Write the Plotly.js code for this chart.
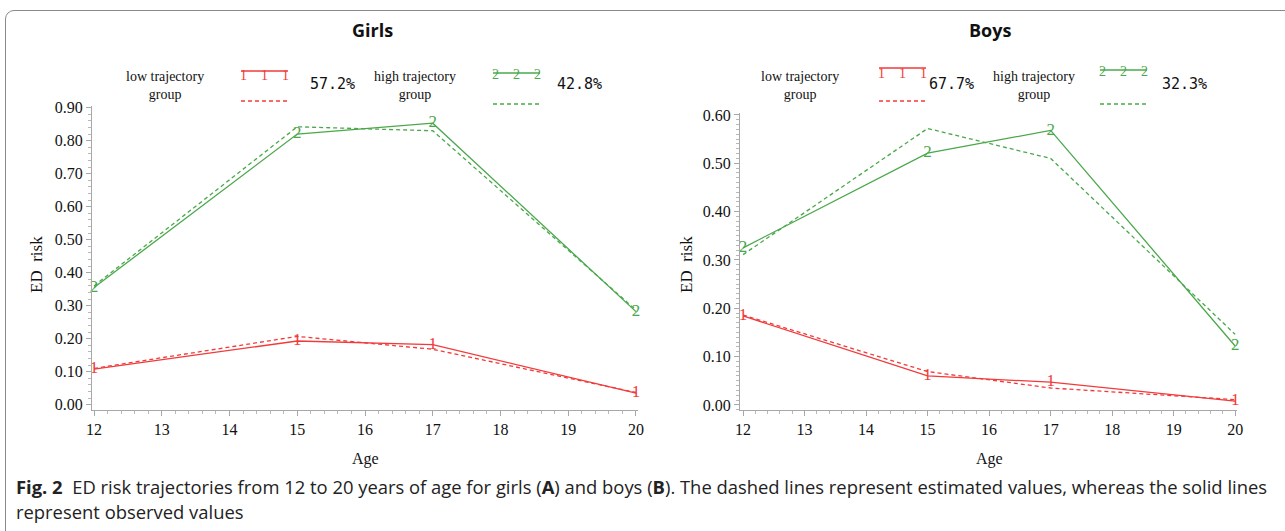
<!DOCTYPE html>
<html><head><meta charset="utf-8">
<script src="https://cdn.plot.ly/plotly-3.0.1.min.js"></script>
<style>
html,body{margin:0;padding:0;background:#fff;overflow:hidden;width:1285px;height:531px;}
#chart{position:absolute;left:0;top:0;width:1285px;height:531px;}
#frame{position:absolute;left:5px;top:10px;width:1400px;height:600px;border:1px solid #8a8a8a;border-radius:9px;pointer-events:none;z-index:10;}
</style></head>
<body><div id="chart"></div><div id="frame"></div>
<script>
// ---- data ----
const ages = [12, 15, 17, 20];
const girlsLowObserved  = [0.108, 0.193, 0.182, 0.035];
const girlsLowEstimated = [0.110, 0.207, 0.168, 0.037];
const girlsHighObserved  = [0.355, 0.820, 0.853, 0.282];
const girlsHighEstimated = [0.360, 0.842, 0.830, 0.287];
const boysLowObserved  = [0.184, 0.060, 0.047, 0.008];
const boysLowEstimated = [0.186, 0.069, 0.035, 0.011];
const boysHighObserved  = [0.325, 0.521, 0.568, 0.122];
const boysHighEstimated = [0.311, 0.572, 0.510, 0.146];
const panelTitles = ['Girls', 'Boys'];
const groupLabels = ['low trajectory<br>group', 'high trajectory<br>group'];
const girlsShares = ['57.2%', '42.8%'];
const boysShares = ['67.7%', '32.3%'];
const xTicks = [12, 13, 14, 15, 16, 17, 18, 19, 20];

const RED = '#f23a3a', GREEN = '#4aa84a';
const W = 1285, H = 531;
const px = x => x / W, py = y => 1 - y / H;
const TIMES = 'Liberation Serif';

function obs(x, y, color, sym, xa, ya) {
  return {x, y, xaxis: xa, yaxis: ya, mode: 'lines+text', type: 'scatter',
    text: y.map(() => sym), textposition: 'middle center',
    textfont: {family: TIMES, size: 17, color},
    line: {color, width: 1.3}, hoverinfo: 'x+y', showlegend: false, cliponaxis: false};
}
function est(x, y, color, xa, ya) {
  return {x, y, xaxis: xa, yaxis: ya, mode: 'lines', type: 'scatter',
    line: {color, width: 1.3, dash: '4px,3px'}, showlegend: false, cliponaxis: false};
}

const traces = [
  est(ages, girlsLowEstimated, RED, 'x', 'y'),
  est(ages, girlsHighEstimated, GREEN, 'x', 'y'),
  obs(ages, girlsLowObserved, RED, '1', 'x', 'y'),
  obs(ages, girlsHighObserved, GREEN, '2', 'x', 'y'),
  est(ages, boysLowEstimated, RED, 'x2', 'y2'),
  est(ages, boysHighEstimated, GREEN, 'x2', 'y2'),
  obs(ages, boysLowObserved, RED, '1', 'x2', 'y2'),
  obs(ages, boysHighObserved, GREEN, '2', 'x2', 'y2'),
];

function axisCommon() {
  return {
    showline: true, linecolor: '#a8a8a8', linewidth: 1, ticks: 'outside', ticklen: 5,
    tickcolor: '#a8a8a8', showgrid: false, zeroline: false, fixedrange: true,
    tickfont: {family: TIMES, size: 16, color: '#111'}
  };
}

const xa = (dom, rng, anchor) => Object.assign(axisCommon(), {
  domain: dom, range: rng, tickvals: xTicks, ticktext: xTicks.map(String), anchor,
  minor: {dtick: 0.2, ticklen: 3, tickcolor: '#b8b8b8', ticks: 'outside'}
});
const ya = (dom, rng, dt, mdt, anchor) => Object.assign(axisCommon(), {
  domain: dom, range: rng, dtick: dt, tick0: 0, tickformat: '.2f', anchor,
  minor: {dtick: mdt, ticklen: 3, tickcolor: '#b8b8b8', ticks: 'outside'}
});

const layout = {
  width: W, height: H, margin: {l: 0, r: 0, t: 0, b: 0},
  font: {family: TIMES, size: 16, color: '#111'},
  paper_bgcolor: 'rgba(0,0,0,0)', plot_bgcolor: 'rgba(0,0,0,0)',
  xaxis: xa([px(92), px(638)], [11.97, 20.03], 'y'),
  yaxis: ya([py(410), py(106)], [-0.016, 0.905], 0.1, 0.02, 'x'),
  xaxis2: xa([px(740), px(1237)], [11.95, 20.03], 'y2'),
  yaxis2: ya([py(410), py(113)], [-0.0105, 0.604], 0.1, 0.01, 'x2'),
  annotations: [], shapes: [], showlegend: false
};

const A = layout.annotations, S = layout.shapes;
function txt(x, y, text, size, opts, family) {
  A.push(Object.assign({xref: 'paper', yref: 'paper', x: px(x), y: py(y), text,
    showarrow: false, font: {family: family || TIMES, size, color: '#111'},
    xanchor: 'center', yanchor: 'middle'}, opts || {}));
}
function seg(x0, x1, y, color, dash) {
  S.push({type: 'line', xref: 'paper', yref: 'paper', x0: px(x0), x1: px(x1), y0: py(y), y1: py(y),
    line: {color, width: 1.5, dash: dash || 'solid'}});
}

// panel titles
txt(372, 30, '<b>' + panelTitles[0] + '</b>', 18, {}, 'Open Sans');
txt(990, 30, '<b>' + panelTitles[1] + '</b>', 18, {}, 'Open Sans');

// legends
function legend(cfg, shares) {
  txt(cfg.l1, 85, groupLabels[0], 14, {align: 'center'});
  seg(cfg.s1, cfg.s1 + 47, cfg.sy1, RED);
  txt(cfg.s1 + 23.5, cfg.sy1 + 5, '1&nbsp;&nbsp;&nbsp;&nbsp;1&nbsp;&nbsp;&nbsp;&nbsp;1', 14, {font: {family: TIMES, size: 14, color: RED}});
  seg(cfg.s1, cfg.s1 + 47, 101, RED, '4px,3px');
  txt(cfg.p1, 84, shares[0], 15, {font: {family: 'DejaVu Sans Mono', size: 15, color: '#111'}});
  txt(cfg.l2, 85, groupLabels[1], 14, {align: 'center'});
  seg(cfg.s2, cfg.s2 + 47, cfg.sy2, GREEN);
  txt(cfg.s2 + 23.5, cfg.sy2 + 1, '2&nbsp;&nbsp;&nbsp;&nbsp;2&nbsp;&nbsp;&nbsp;&nbsp;2', 14, {font: {family: TIMES, size: 14, color: GREEN}});
  seg(cfg.s2, cfg.s2 + 47, 104, GREEN, '4px,3px');
  txt(cfg.p2, 84, shares[1], 15, {font: {family: 'DejaVu Sans Mono', size: 15, color: '#111'}});
}
legend({l1: 165, s1: 241, sy1: 71, p1: 332, l2: 415, s2: 493, sy2: 73, p2: 579}, girlsShares);
legend({l1: 800, s1: 879, sy1: 68, p1: 951, l2: 1034, s2: 1100, sy2: 70, p2: 1184}, boysShares);

// axis titles
txt(36, 265, 'ED&nbsp;&nbsp;risk', 17, {textangle: -90});
txt(686, 265, 'ED&nbsp;&nbsp;risk', 17, {textangle: -90});
txt(365, 459, 'Age', 16);
txt(989, 459, 'Age', 16);

// caption
const capFont = {family: 'Open Sans', size: 18.4, color: '#222'};
A.push({xref: 'paper', yref: 'paper', x: px(14), y: py(486), xanchor: 'left', yanchor: 'middle', showarrow: false,
  font: capFont, align: 'left',
  text: '<b>Fig. 2</b>  ED risk trajectories from 12 to 20 years of age for girls (<b>A</b>) and boys (<b>B</b>). The dashed lines represent estimated values, whereas the solid lines'});
A.push({xref: 'paper', yref: 'paper', x: px(14), y: py(511), xanchor: 'left', yanchor: 'middle', showarrow: false,
  font: capFont, align: 'left', text: 'represent observed values'});

Plotly.newPlot('chart', traces, layout, {displayModeBar: false, staticPlot: true});
</script></body></html>
